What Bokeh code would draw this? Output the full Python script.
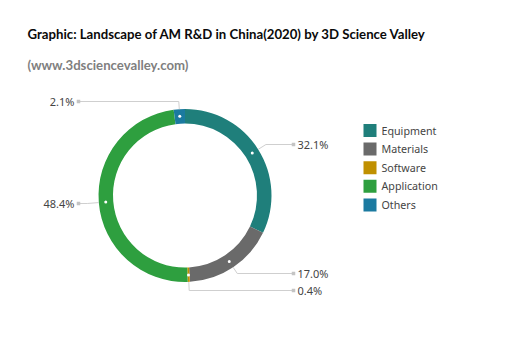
import math
from bokeh.plotting import figure
from bokeh.models import Range1d, Label, ColumnDataSource
from bokeh.core.properties import value
from bokeh.embed import file_html
from bokeh.resources import INLINE

# ---- data ----
categories = ["Equipment", "Materials", "Software", "Application", "Others"]
shares = [32.1, 17.0, 0.4, 48.4, 2.1]
colors = ["#1f7f7b", "#6a6a6a", "#c09000", "#2e9f3f", "#1b7aa0"]
title_text = "Graphic: Landscape of AM R&D in China(2020) by 3D Science Valley"
subtitle_text = "(www.3dsciencevalley.com)"

# ---- layout (top-origin pixel coords) ----
W, H = 505, 353
CX, CY = 184.5, 195.0
R_OUT, R_IN = 86.5, 72.0
R_DOT = 79.5
label_y = [144, 273, 290, 203, 101]      # per slice label rows
right_end, left_end = 293, 78


def Y(v):
    return H - v


p = figure(width=W, height=H, x_range=Range1d(0, W), y_range=Range1d(0, H),
           output_backend="svg", toolbar_location=None,
           x_axis_location=None, y_axis_location=None, min_border=0)
p.grid.visible = False
p.outline_line_color = None
p.background_fill_color = "white"

total = sum(shares)
starts, ends, mids = [], [], []
acc = 0.0
for s in shares:
    f0 = acc / total
    acc += s
    f1 = acc / total
    starts.append(math.pi / 2 - 2 * math.pi * f0)
    ends.append(math.pi / 2 - 2 * math.pi * f1)
    mids.append(2 * math.pi * (f0 + f1) / 2)  # clockwise from top

src = ColumnDataSource(dict(x=[CX] * len(shares), y=[Y(CY)] * len(shares),
                            start=starts, end=ends, color=colors))
p.annular_wedge(x="x", y="y", inner_radius=R_IN, outer_radius=R_OUT,
                start_angle="start", end_angle="end", direction="clock",
                fill_color="color", line_color=None, source=src)

# white dots at slice centres
dx = [CX + R_DOT * math.sin(m) for m in mids]
dy = [Y(CY - R_DOT * math.cos(m)) for m in mids]
p.scatter(dx, dy, size=3, fill_color="white", line_color=None)

# leader lines and labels
lx, ly, ex, ey, tx, ty, tt, align = [], [], [], [], [], [], [], []
for m, s, yl in zip(mids, shares, label_y):
    sx, sy = math.sin(m), -math.cos(m)  # direction in top-origin coords
    x0 = CX + R_OUT * sx
    y0 = CY + R_OUT * sy
    if abs(sy) > 1e-6:
        t = (yl - y0) / sy
        if t < 0:
            t = 0
    else:
        t = 0
    xe = x0 + t * sx
    right = sx > 0.02 or (abs(sx) <= 0.2 and sy > 0)
    xend = right_end if right else left_end
    lx.append([x0, xe, xend])
    ly.append([Y(y0), Y(yl), Y(yl)])
    ex.append(xend)
    ey.append(Y(yl))
    tx.append(xend + 4 if right else xend - 4)
    ty.append(Y(yl))
    tt.append(f"{s:.1f}%")
    align.append("left" if right else "right")

p.multi_line(lx, ly, line_color="#cfcfcf", line_width=1)
p.scatter(ex, ey, size=3.5, marker="square", fill_color="#c4c4c4", line_color=None)
p.text(tx, ty, text=tt, text_align=align, text_baseline="middle",
       text_font=value("Noto Sans"), text_font_size="11px", text_color="#444444")

# legend
leg_x, leg_y0, leg_dy, box = 369.5, 130.0, 18.6, 13
lgx = [leg_x] * len(categories)
lgy = [Y(leg_y0 + i * leg_dy) for i in range(len(categories))]
p.rect(lgx, lgy, width=box, height=box, fill_color=colors, line_color=None)
p.text([leg_x + 11.5] * len(categories), lgy, text=categories,
       text_baseline="middle", text_font=value("Noto Sans"),
       text_font_size="10.7px", text_color="#444444")

p.add_layout(Label(x=27, y=Y(33), text=title_text, text_baseline="middle",
                   text_font="Lato", text_font_style="bold",
                   text_font_size="13.2px", text_color="#0a0a0a"))
p.add_layout(Label(x=27, y=Y(64), text=subtitle_text, text_baseline="middle",
                   text_font="Lato", text_font_style="bold",
                   text_font_size="13.2px", text_color="#7f7f7f"))

open("out.html", "w").write(file_html(p, INLINE))
